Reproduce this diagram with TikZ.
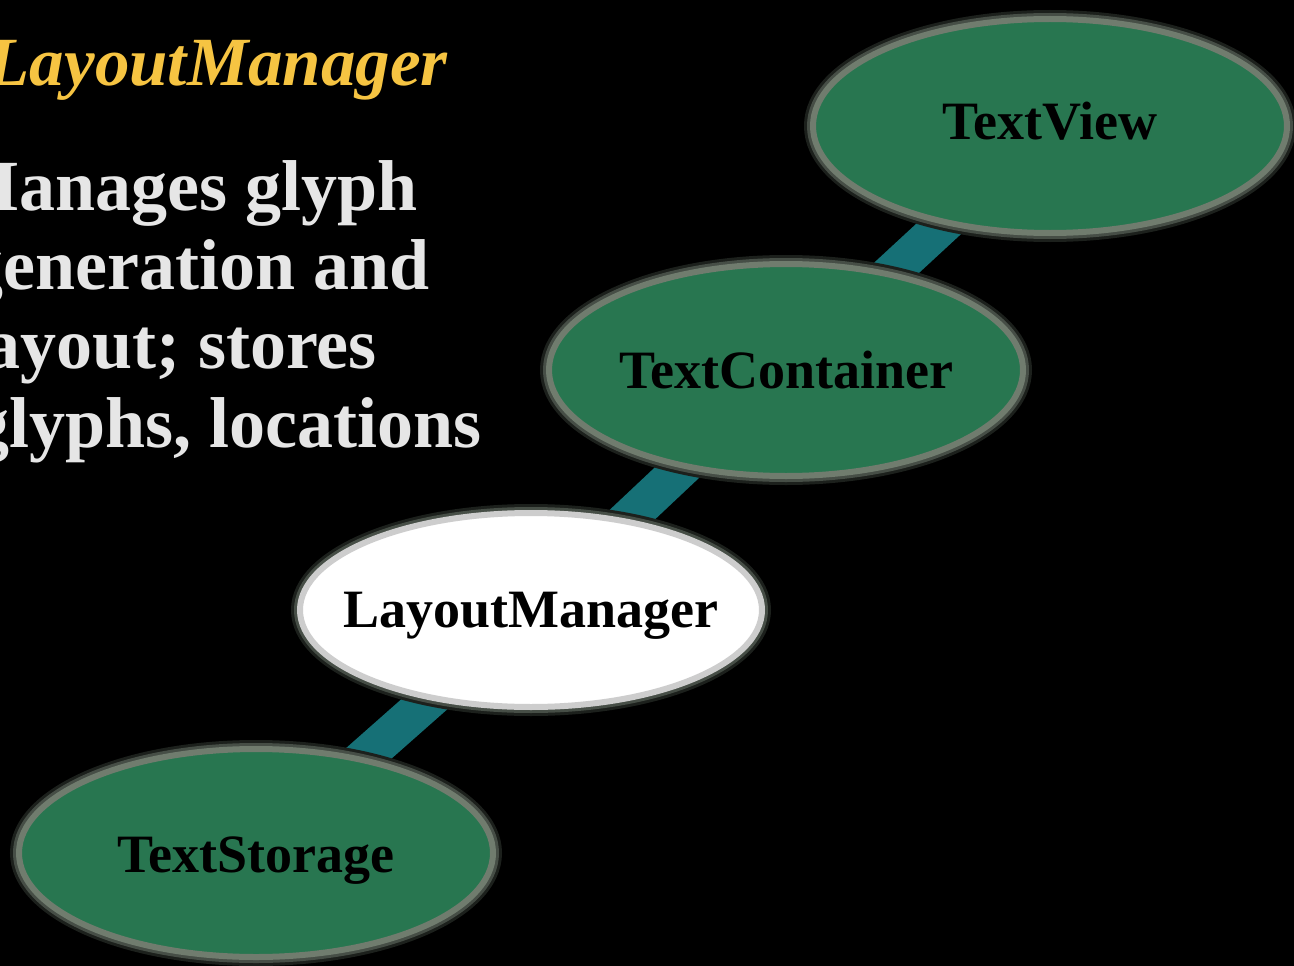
\documentclass[tikz,border=0pt]{standalone}
\usepackage{fontspec}
\setmainfont{Liberation Serif}
\usetikzlibrary{shapes.geometric,backgrounds}
\definecolor{bgblack}{RGB}{0,0,0}
\definecolor{nodegreen}{RGB}{40,118,80}
\definecolor{edgegray}{RGB}{112,124,110}
\definecolor{halomid}{RGB}{70,78,70}
\definecolor{haloout}{RGB}{28,32,28}
\definecolor{whiteedge}{RGB}{205,205,205}
\definecolor{linkteal}{RGB}{22,112,118}
\definecolor{titlegold}{RGB}{246,196,66}
\definecolor{bodygray}{RGB}{230,230,230}
\tikzset{
  labeltext/.style={inner sep=0pt,
    font=\fontsize{54}{60}\selectfont\bfseries, text=black},
  classnode/.style={ellipse, inner sep=0pt, fill=nodegreen, draw=edgegray, line width=6pt},
  focusnode/.style={ellipse, inner sep=0pt, fill=white, draw=whiteedge, line width=6pt},
  haloouter/.style={ellipse, inner sep=0pt, draw=haloout, line width=18pt},
  halomiddle/.style={ellipse, inner sep=0pt, draw=halomid, line width=12pt},
  link/.style={draw=linkteal, line width=38pt},
  bodyline/.style={anchor=base east, inner sep=0pt, text=bodygray,
    font=\fontsize{72}{79}\selectfont\bfseries},
  titletext/.style={anchor=base east, inner sep=0pt, text=titlegold,
    font=\fontsize{69}{80}\selectfont\bfseries\itshape}
}
\begin{document}
\begin{tikzpicture}[x=1pt,y=-1pt]
\useasboundingbox (0,0) rectangle (1294,966);
\begin{scope}
\clip (0,0) rectangle (1294,966);
% title and description
\node[titletext] (title) at (448,85) {LayoutManager};
\node[bodyline] (l1) at (418,210) {Manages glyph};
\node[bodyline] (l2) at (430,289) {generation and};
\node[bodyline] (l3) at (377,368) {layout; stores};
\node[bodyline] (l4) at (482,447) {glyphs, locations};
% halos
\foreach \c/\w/\h/\nm in {{(1050,126)}/474/214/v,{(786,370)}/474/212/c,{(531,610)}/462/194/l,{(256,853)}/474/208/s}{
  \node[haloouter, minimum width=\w pt, minimum height=\h pt] (ho\nm) at \c {};
  \node[halomiddle, minimum width=\w pt, minimum height=\h pt] (hm\nm) at \c {};
}
% nodes
\node[classnode, minimum width=474pt, minimum height=214pt,
  label={[labeltext, yshift=5pt]center:TextView}] (view) at (1050,126) {};
\node[classnode, minimum width=474pt, minimum height=212pt,
  label={[labeltext]center:TextContainer}] (container) at (786,370) {};
\node[focusnode, minimum width=462pt, minimum height=194pt,
  label={[labeltext, yshift=-6pt]center:LayoutManager}] (manager) at (531,610) {};
\node[classnode, minimum width=474pt, minimum height=208pt,
  label={[labeltext, yshift=-8pt]center:TextStorage}] (storage) at (256,853) {};
\end{scope}
\begin{pgfonlayer}{background}
\fill[bgblack] (0,0) rectangle (1294,966);
\draw[link] (view.center) -- (container.center);
\draw[link] (container.center) -- (manager.center);
\draw[link] (manager.center) -- (storage.center);
\end{pgfonlayer}
\end{tikzpicture}
\end{document}
